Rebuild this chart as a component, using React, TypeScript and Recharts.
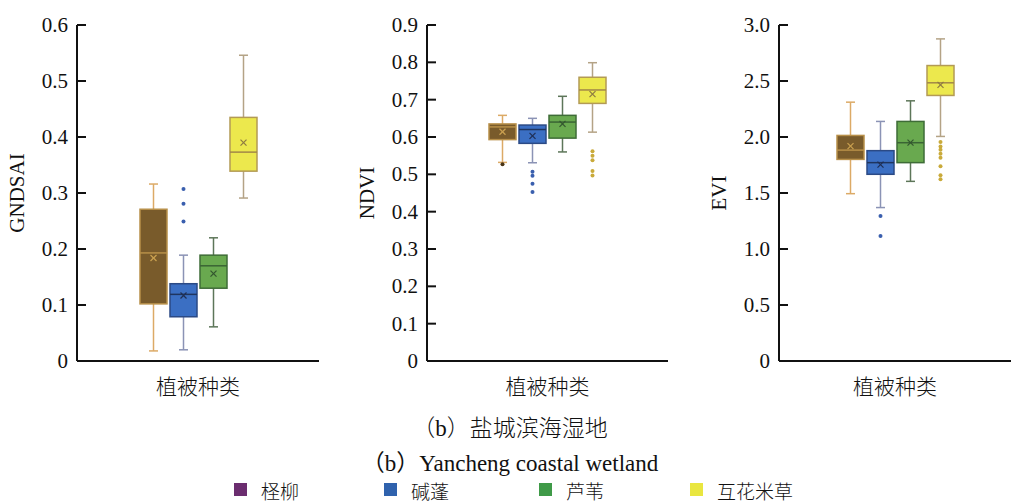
import React from 'react';
import { ComposedChart, Bar, XAxis, YAxis } from 'recharts';

const species = ['柽柳', '碱蓬', '芦苇', '互花米草'];
const legendColors = ['#6b2d6f', '#2f62ad', '#3f9a48', '#e9e640'];
const boxFills = ['#795b2b', '#3b6fc3', '#69a94f', '#ece84d'];
const boxStrokes = ['#b8904a', '#2b4a85', '#3e6c37', '#b39a55'];
const whiskerColors = ['#dcaa66', '#8b93b5', '#5d7659', '#b4a386'];
const medianColors = ['#b89048', '#1f355f', '#3a6434', '#a28848'];
const meanColors = ['#caa050', '#1f2f55', '#33552f', '#8e7a42'];
const outlierColors = ['#4a3515', '#3a5fae', '#4f8a3f', '#c9aa3a'];

const category = ['植被种类'];

// GNDSAI
const gndsaiTicks = [0, 0.1, 0.2, 0.3, 0.4, 0.5, 0.6];
const gndsaiMin = [0.018, 0.02, 0.061, 0.291];
const gndsaiQ1 = [0.102, 0.079, 0.13, 0.339];
const gndsaiMedian = [0.193, 0.119, 0.17, 0.373];
const gndsaiQ3 = [0.271, 0.138, 0.189, 0.435];
const gndsaiMax = [0.316, 0.189, 0.22, 0.546];
const gndsaiMean = [0.184, 0.117, 0.156, 0.39];
const gndsaiOutliers = [[], [0.307, 0.281, 0.249], [], []];

// NDVI
const ndviTicks = [0, 0.1, 0.2, 0.3, 0.4, 0.5, 0.6, 0.7, 0.8, 0.9];
const ndviMin = [0.532, 0.531, 0.56, 0.613];
const ndviQ1 = [0.593, 0.583, 0.597, 0.69];
const ndviMedian = [0.627, 0.62, 0.64, 0.726];
const ndviQ3 = [0.635, 0.632, 0.658, 0.76];
const ndviMax = [0.658, 0.65, 0.709, 0.799];
const ndviMean = [0.614, 0.603, 0.635, 0.715];
const ndviOutliers = [[0.527], [0.507, 0.496, 0.475, 0.453], [], [0.562, 0.55, 0.538, 0.509, 0.497]];

// EVI
const eviTicks = [0, 0.5, 1.0, 1.5, 2.0, 2.5, 3.0];
const eviMin = [1.494, 1.37, 1.604, 2.005];
const eviQ1 = [1.8, 1.667, 1.771, 2.371];
const eviMedian = [1.883, 1.771, 1.949, 2.484];
const eviQ3 = [2.014, 1.878, 2.139, 2.638];
const eviMax = [2.311, 2.139, 2.323, 2.876];
const eviMean = [1.919, 1.753, 1.95, 2.466];
const eviOutliers = [[], [1.295, 1.117], [], [1.955, 1.916, 1.887, 1.851, 1.815, 1.738, 1.658, 1.622]];

type Stats = {
  min: number[]; q1: number[]; median: number[]; q3: number[]; max: number[]; mean: number[]; outliers: number[][];
};

const SERIF = "'Liberation Serif', 'Times New Roman', 'Noto Sans CJK SC', serif";
const CJK = "'Noto Sans CJK SC', sans-serif";
const TEXT = '#111';

function makeBoxShape(stats: Stats, i: number) {
  return (props: any) => {
    const { x, y, width, height } = props;
    if (x == null || y == null) return null;
    const lo = stats.min[i];
    const hi = stats.max[i];
    const top = Math.min(y, y + height);
    const bottom = Math.max(y, y + height);
    const ppu = (bottom - top) / (hi - lo);
    const py = (v: number) => bottom - (v - lo) * ppu;
    const cx = x + width / 2;
    const cap = 4.5;
    const yq1 = py(stats.q1[i]);
    const yq3 = py(stats.q3[i]);
    const ymed = py(stats.median[i]);
    const ymean = py(stats.mean[i]);
    const m = 3;
    return (
      <g>
        <line x1={cx} x2={cx} y1={py(hi)} y2={yq3} stroke={whiskerColors[i]} strokeWidth={1.5} />
        <line x1={cx} x2={cx} y1={yq1} y2={py(lo)} stroke={whiskerColors[i]} strokeWidth={1.5} />
        <line x1={cx - cap} x2={cx + cap} y1={py(hi)} y2={py(hi)} stroke={whiskerColors[i]} strokeWidth={1.5} />
        <line x1={cx - cap} x2={cx + cap} y1={py(lo)} y2={py(lo)} stroke={whiskerColors[i]} strokeWidth={1.5} />
        <rect x={x} y={yq3} width={width} height={yq1 - yq3} fill={boxFills[i]} stroke={boxStrokes[i]} strokeWidth={1.5} />
        <line x1={x} x2={x + width} y1={ymed} y2={ymed} stroke={medianColors[i]} strokeWidth={1.5} />
        <line x1={cx - m} x2={cx + m} y1={ymean - m} y2={ymean + m} stroke={meanColors[i]} strokeWidth={1.2} />
        <line x1={cx - m} x2={cx + m} y1={ymean + m} y2={ymean - m} stroke={meanColors[i]} strokeWidth={1.2} />
        {stats.outliers[i].map((v, k) => (
          <circle key={k} cx={cx} cy={py(v)} r={2} fill={outlierColors[i]} />
        ))}
      </g>
    );
  };
}

type Panel = {
  title: string; left: number; width: number; yAxisWidth: number; marginRight: number;
  domain: [number, number]; ticks: number[]; stats: Stats;
};

const panels: Panel[] = [
  {
    title: 'GNDSAI', left: 0, width: 330, yAxisWidth: 77, marginRight: 11, domain: [0, 0.6], ticks: gndsaiTicks,
    stats: { min: gndsaiMin, q1: gndsaiQ1, median: gndsaiMedian, q3: gndsaiQ3, max: gndsaiMax, mean: gndsaiMean, outliers: gndsaiOutliers },
  },
  {
    title: 'NDVI', left: 340, width: 340, yAxisWidth: 87, marginRight: 12, domain: [0, 0.9], ticks: ndviTicks,
    stats: { min: ndviMin, q1: ndviQ1, median: ndviMedian, q3: ndviQ3, max: ndviMax, mean: ndviMean, outliers: ndviOutliers },
  },
  {
    title: 'EVI', left: 680, width: 331, yAxisWidth: 99, marginRight: 0, domain: [0, 3.0], ticks: eviTicks,
    stats: { min: eviMin, q1: eviQ1, median: eviMedian, q3: eviQ3, max: eviMax, mean: eviMean, outliers: eviOutliers },
  },
];

const fmt = (v: number) => (v === 0 ? '0' : v.toFixed(1));

const CHART_H = 400;
const TOP = 25;
const XAXIS_H = 39;

function YTick(props: any) {
  const { x, y, payload } = props;
  return (
    <text x={x} y={y} textAnchor="end" dominantBaseline="central" fontSize={21} fontFamily={SERIF} fill={TEXT}>
      {fmt(payload.value)}
    </text>
  );
}

function XTick(props: any) {
  const { x, y, payload } = props;
  return (
    <text x={x} y={y} textAnchor="middle" dominantBaseline="central" fontSize={21} fontWeight={300} fontFamily={CJK} fill={TEXT}>
      {payload.value}
    </text>
  );
}

function BoxPanel({ p }: { p: Panel }) {
  const row: any = { name: category[0] };
  species.forEach((_, i) => {
    row[`r${i}`] = [p.stats.min[i], p.stats.max[i]];
  });
  const data = [row];
  return (
    <div style={{ position: 'absolute', left: p.left, top: 0 }}>
      <ComposedChart
        width={p.width}
        height={CHART_H}
        data={data}
        margin={{ top: TOP, right: p.marginRight, bottom: 0, left: 0 }}
        barGap={3}
      >
        <XAxis
          dataKey="name"
          type="category"
          height={XAXIS_H}
          axisLine={{ stroke: '#111', strokeWidth: 2 }}
          tickLine={false}
          tickSize={0}
          tickMargin={24}
          tick={<XTick />}
        />
        <YAxis
          type="number"
          domain={p.domain}
          ticks={p.ticks}
          interval={0}
          width={p.yAxisWidth}
          axisLine={{ stroke: '#111', strokeWidth: 2 }}
          tickLine={{ stroke: '#111', strokeWidth: 2 }}
          tickSize={-9}
          tickMargin={18}
          tick={<YTick />}
        />
        {species.map((s, i) => (
          <Bar
            key={s}
            dataKey={`r${i}`}
            name={s}
            barSize={27}
            fill={boxFills[i]}
            isAnimationActive={false}
            shape={makeBoxShape(p.stats, i)}
          />
        ))}
      </ComposedChart>
    </div>
  );
}

export default function App() {
  const legendX = [234, 384, 539, 690];
  return (
    <div style={{ position: 'absolute', left: 0, top: 0, width: 1011, height: 503, background: '#fff', overflow: 'hidden' }}>
      {panels.map((p) => (
        <BoxPanel key={p.title} p={p} />
      ))}
      <svg width={1011} height={503} style={{ position: 'absolute', left: 0, top: 0, pointerEvents: 'none' }}>
        {panels.map((p) => {
          const tx = p.left + p.yAxisWidth - 60;
          const ty = 193;
          return (
            <text
              key={p.title}
              x={tx}
              y={ty}
              transform={`rotate(-90 ${tx} ${ty})`}
              textAnchor="middle"
              dominantBaseline="central"
              fontSize={21}
              fontFamily={SERIF}
              fill={TEXT}
            >
              {p.title}
            </text>
          );
        })}
        <text x={510} y={428} textAnchor="middle" dominantBaseline="central" fontSize={23} fontWeight={300} fontFamily={SERIF} fill={TEXT}>
          （b）盐城滨海湿地
        </text>
        <text x={510} y={463} textAnchor="middle" dominantBaseline="central" fontSize={23} fontFamily={SERIF} fill={TEXT}>
          （b）Yancheng coastal wetland
        </text>
        {species.map((s, i) => (
          <g key={s}>
            <rect x={legendX[i]} y={483} width={13} height={13} fill={legendColors[i]} />
            <text x={legendX[i] + 27} y={490} dominantBaseline="central" fontSize={19} fontWeight={300} fontFamily={CJK} fill={TEXT}>
              {s}
            </text>
          </g>
        ))}
      </svg>
    </div>
  );
}
